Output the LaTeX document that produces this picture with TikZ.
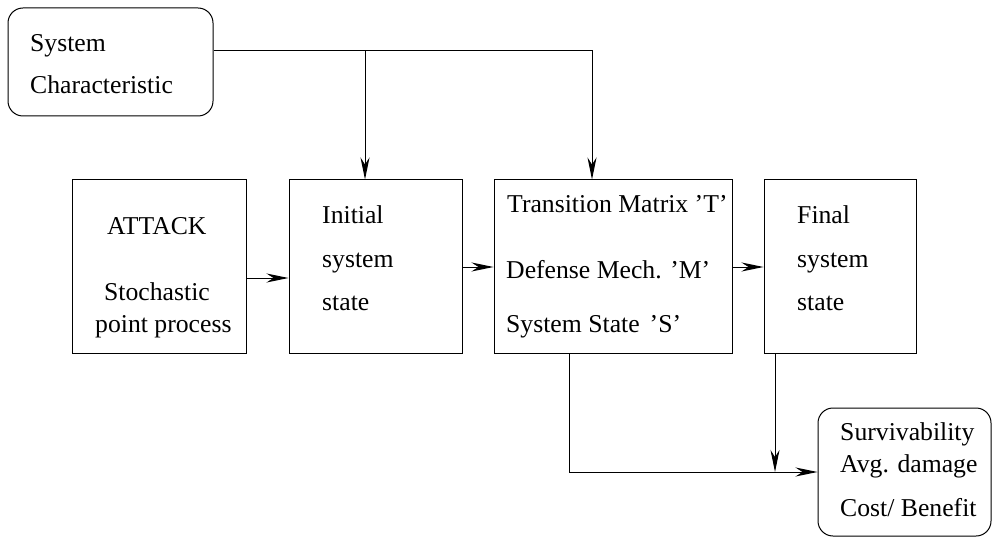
\documentclass[tikz,border=0pt]{standalone}
\usepackage{fontspec}
\setmainfont{Liberation Serif}
\usetikzlibrary{arrows.meta}
\begin{document}
\begin{tikzpicture}[x=1pt,y=-1pt,
  box/.style={draw, line width=1pt, inner sep=0pt},
  rbox/.style={box, rounded corners=15pt},
  txt/.style={anchor=base west, inner sep=0pt, font=\fontsize{25.7}{30}\selectfont},
  conn/.style={line width=1pt},
  arr/.style={conn, -{Stealth[length=22pt, width=9pt, inset=7pt]}}]
\useasboundingbox (0,0) rectangle (992,537);
% boxes
\node[rbox, minimum width=205pt, minimum height=108pt] (sc) at (110.5,62) {};
\node[box, minimum width=174pt, minimum height=173pt] (attack) at (159,266.5) {};
\node[box, minimum width=173pt, minimum height=173pt] (init) at (375.5,266.5) {};
\node[box, minimum width=238pt, minimum height=173pt] (trans) at (613,266.5) {};
\node[box, minimum width=152pt, minimum height=173pt] (final) at (840,266.5) {};
\node[rbox, minimum width=173pt, minimum height=128pt] (res) at (904.5,472) {};
% texts
\node[txt] (t1) at (30,52) {System};
\node[txt] (t2) at (30,94) {Characteristic};
\node[txt] (t3) at (107,235) {ATTACK};
\node[txt] (t4) at (104,300) {Stochastic};
\node[txt] (t5) at (95,332) {point process};
\node[txt] (t6) at (322,224) {Initial};
\node[txt] (t7) at (322,267) {system};
\node[txt] (t8) at (322,310) {state};
\node[txt] (t9) at (507,213) {Transition Matrix ’T’};
\node[txt] (t10) at (506,278) {Defense Mech. ’M’};
\node[txt] (t11) at (506,332) {System State\hspace{10pt}’S’};
\node[txt] (t12) at (797,223) {Final};
\node[txt] (t13) at (797,267) {system};
\node[txt] (t14) at (797,310) {state};
\node[txt] (t15) at (840,440) {Survivability};
\node[txt] (t16) at (840,472) {Avg. damage};
\node[txt] (t17) at (840,516) {Cost/ Benefit};
% connectors
\coordinate (j1) at (365,51);
\coordinate (j2) at (592,51);
\coordinate (j3) at (569,472);
\coordinate (j4) at (775,472);
\draw[arr] (sc.east |- j1) -- (j2) -- (trans.north -| j2);
\draw[arr] (j1) -- (init.north -| j1);
\draw[arr] (attack.east |- 0,278) -- (init.west |- 0,278);
\draw[arr] (init.east |- 0,267) -- (trans.west |- 0,267);
\draw[arr] (trans.east |- 0,267) -- (final.west |- 0,267);
\draw[arr] (trans.south -| j3) -- (j3) -- (res.west);
\draw[arr] (final.south -| j4) -- (j4);
\end{tikzpicture}
\end{document}
